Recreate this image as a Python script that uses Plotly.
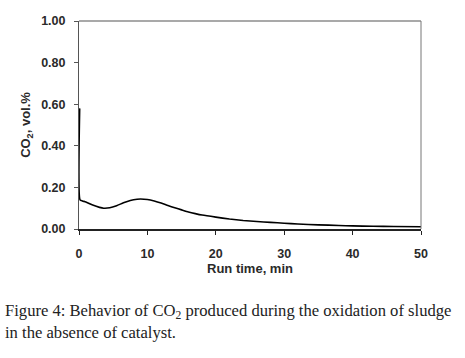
import plotly.graph_objects as go

# Data
run_time = [0.1, 0.15, 0.5, 1.0, 2.0, 3.0, 3.6, 4.5, 5.5, 6.5, 7.5, 8.5, 9.0, 10.0, 11.0, 12.0, 13.0,
            14.0, 15.0, 16.0, 17.0, 18.0, 20.0, 22.0, 24.0, 26.0, 28.0, 30.0, 32.0, 35.0, 38.0, 40.0,
            43.0, 46.0, 50.0]
co2 = [0.58, 0.14, 0.135, 0.13, 0.115, 0.104, 0.100, 0.102, 0.112, 0.126, 0.137, 0.143, 0.144, 0.142,
       0.135, 0.125, 0.113, 0.102, 0.092, 0.082, 0.074, 0.067, 0.057, 0.048, 0.041, 0.036, 0.032,
       0.028, 0.024, 0.020, 0.017, 0.015, 0.013, 0.012, 0.011]

x_ticks = [0, 10, 20, 30, 40, 50]
y_ticks = [0.0, 0.2, 0.4, 0.6, 0.8, 1.0]
y_tick_labels = ["0.00", "0.20", "0.40", "0.60", "0.80", "1.00"]

fig = go.Figure()
fig.add_trace(go.Scatter(x=run_time, y=co2, mode="lines", cliponaxis=False,
                         line=dict(color="black", width=1.6, shape="spline", smoothing=0.5),
                         showlegend=False, hoverinfo="skip"))

axis_font = dict(family="Arial, Liberation Sans, sans-serif", size=12.5, color="#2a2a2a")
title_font = dict(family="Arial, Liberation Sans, sans-serif", size=13, color="#2a2a2a")

fig.update_layout(
    width=465, height=358,
    margin=dict(l=79, r=44, t=21, b=129),
    paper_bgcolor="white", plot_bgcolor="white",
    xaxis=dict(range=[0, 50], tickvals=x_ticks, ticktext=["<b>%d</b>" % t for t in x_ticks],
               ticks="outside", ticklen=4, tickwidth=1.2, automargin=False,
               tickcolor="#222222", showline=True, linecolor="#222222", linewidth=1.6,
               showgrid=False, zeroline=False, tickfont=axis_font, ticklabelstandoff=8,
               title=dict(text="<b>Run time, min</b>", font=title_font, standoff=4)),
    yaxis=dict(range=[0, 1.0], tickvals=y_ticks, ticktext=["<b>%s</b>" % t for t in y_tick_labels],
               ticks="outside", ticklen=4, tickwidth=1, tickcolor="#555555", automargin=False,
               showline=True, linecolor="#555555", linewidth=1,
               showgrid=False, zeroline=False, tickfont=axis_font, ticklabelstandoff=6,
               title=dict(text="<b>CO<sub>2</sub>, vol.%</b>", font=title_font, standoff=7)),
)

# gray frame on top and right
fig.add_shape(type="line", xref="paper", yref="paper", x0=0, x1=1, y0=1, y1=1,
              line=dict(color="#555555", width=1.2))
fig.add_shape(type="line", xref="paper", yref="paper", x0=1, x1=1, y0=0, y1=1,
              line=dict(color="#777777", width=1))

cap_font = dict(family="Liberation Serif, Times New Roman, serif", size=16.6, color="#222222")
fig.add_annotation(xref="paper", yref="paper", x=-0.222, y=-0.338, xanchor="left", yanchor="top",
                   showarrow=False, align="left", font=cap_font,
                   text="Figure 4: Behavior of CO<sub>2</sub> produced during the oxidation of sludge<br>in the absence of catalyst.")

fig.write_html("out.html", config={"displayModeBar": False},
               post_script="document.body.style.margin='0';")
